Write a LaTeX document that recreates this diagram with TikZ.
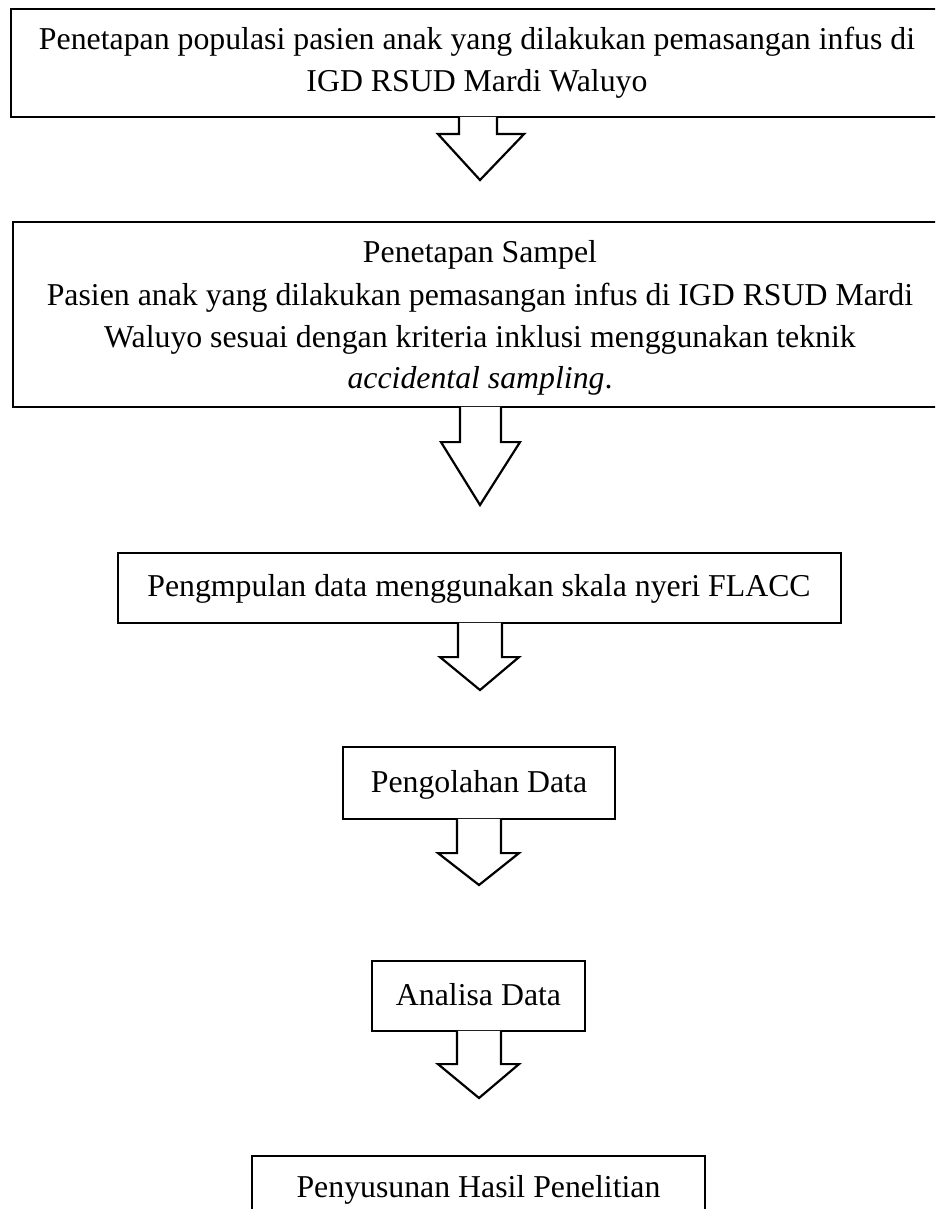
\documentclass[tikz,border=0pt]{standalone}
\usepackage{fontspec}
\setmainfont{Liberation Serif}
\usetikzlibrary{calc}
\begin{document}
\begin{tikzpicture}[x=1pt,y=-1pt,
  box/.style={draw, line width=2.2pt, rectangle, inner sep=0pt},
  txt/.style={font=\fontsize{31.8}{42}\selectfont, inner sep=0pt, anchor=base},
  blockarrow/.style={draw, fill=white, line width=2.2pt, line join=miter}]
\clip (0,0) rectangle (935,1209);
\fill[white] (0,0) rectangle (935,1209);
% boxes
\node[box, minimum width=939pt, minimum height=108pt] (b1) at (480.5,63) {};
\node[box, minimum width=935pt, minimum height=185pt] (b2) at (480.5,314.5) {};
\node[box, minimum width=723pt, minimum height=70pt] (b3) at (479.5,588) {};
\node[box, minimum width=272pt, minimum height=72pt] (b4) at (479,783) {};
\node[box, minimum width=213pt, minimum height=70pt] (b5) at (478.5,996) {};
\node[box, minimum width=453pt, minimum height=84pt] (b6) at (478.5,1198) {};
% texts
\node[txt] (t1a) at (477,50) {Penetapan populasi pasien anak yang dilakukan pemasangan infus di};
\node[txt] (t1b) at (477,92) {IGD RSUD Mardi Waluyo};
\node[txt] (t2a) at (480,262) {Penetapan Sampel};
\node[txt] (t2b) at (480,305) {Pasien anak yang dilakukan pemasangan infus di IGD RSUD Mardi};
\node[txt] (t2c) at (480,347) {Waluyo sesuai dengan kriteria inklusi menggunakan teknik};
\node[txt] (t2d) at (480,388) {\textit{accidental sampling}.};
\node[txt] (t3) at (479,596) {Pengmpulan data menggunakan skala nyeri FLACC};
\node[txt] (t4) at (479,792) {Pengolahan Data};
\node[txt] (t5) at (478.5,1005) {Analisa Data};
\node[txt] (t6) at (478.5,1197) {Penyusunan Hasil Penelitian};
% arrow tips
\coordinate (p1) at (480,180);
\coordinate (p2) at (480,505);
\coordinate (p3) at (480,690);
\coordinate (p4) at (479,885);
\coordinate (p5) at (479,1098);
% block arrows
\draw[blockarrow] ($(b1.south)+(-21.5,-1.3)$) -- ($(b1.south)+(-21.5,16)$) -- ($(b1.south)+(-42.5,16)$) -- (p1)
  -- ($(b1.south)+(43.5,16)$) -- ($(b1.south)+(16.5,16)$) -- ($(b1.south)+(16.5,-1.3)$);
\draw[blockarrow] ($(b2.south)+(-20.5,-1.3)$) -- ($(b2.south)+(-20.5,34)$) -- ($(b2.south)+(-39.5,34)$) -- (p2)
  -- ($(b2.south)+(39.5,34)$) -- ($(b2.south)+(20.5,34)$) -- ($(b2.south)+(20.5,-1.3)$);
\draw[blockarrow] ($(b3.south)+(-21.5,-1.3)$) -- ($(b3.south)+(-21.5,33)$) -- ($(b3.south)+(-39.5,33)$) -- (p3)
  -- ($(b3.south)+(39.5,33)$) -- ($(b3.south)+(22.5,33)$) -- ($(b3.south)+(22.5,-1.3)$);
\draw[blockarrow] ($(b4.south)+(-22,-1.3)$) -- ($(b4.south)+(-22,33)$) -- ($(b4.south)+(-41,33)$) -- (p4)
  -- ($(b4.south)+(40,33)$) -- ($(b4.south)+(22,33)$) -- ($(b4.south)+(22,-1.3)$);
\draw[blockarrow] ($(b5.south)+(-21.5,-1.3)$) -- ($(b5.south)+(-21.5,32)$) -- ($(b5.south)+(-40.5,32)$) -- (p5)
  -- ($(b5.south)+(40.5,32)$) -- ($(b5.south)+(22.5,32)$) -- ($(b5.south)+(22.5,-1.3)$);
\end{tikzpicture}
\end{document}
